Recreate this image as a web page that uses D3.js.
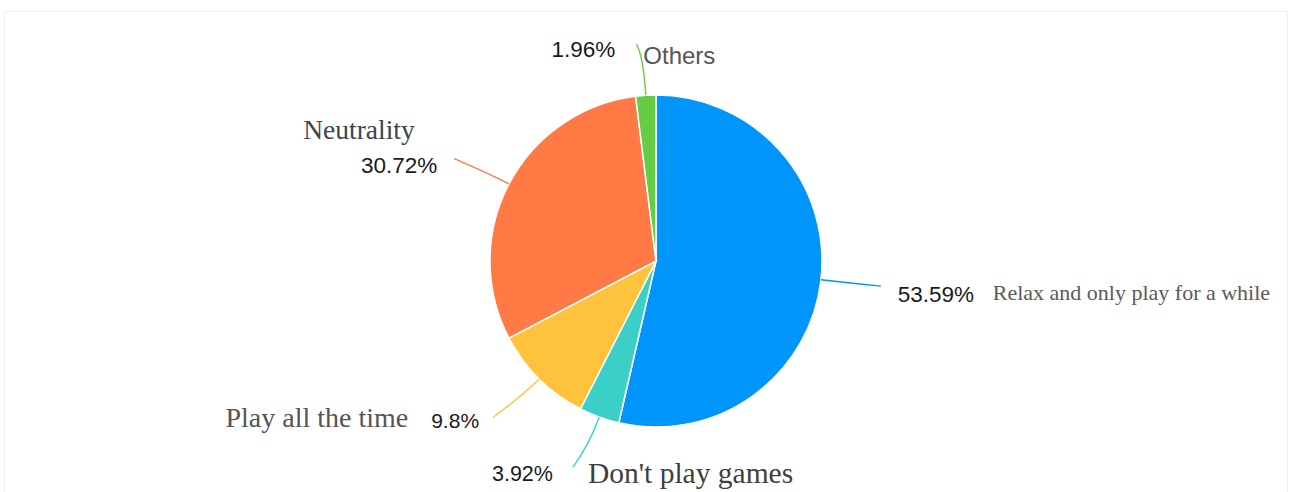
<!DOCTYPE html>
<html>
<head>
<meta charset="utf-8">
<script src="https://cdn.jsdelivr.net/npm/d3@7"></script>
<style>
  html, body { margin: 0; padding: 0; background: #fff; }
  .pct { font-family: "Liberation Sans", Arial, sans-serif; fill: #1a1a1a; }
  .name { font-family: "Liberation Serif", "Times New Roman", serif; fill: #555; }
</style>
</head>
<body>
<svg id="chart" width="1290" height="492"></svg>
<script>
// slices, clockwise from 12 o'clock
var categories = ['Relax and only play for a while', "Don't play games", 'Play all the time', 'Neutrality', 'Others'];
var values = [53.59, 3.92, 9.8, 30.72, 1.96];
var pctLabels = ['53.59%', '3.92%', '9.8%', '30.72%', '1.96%'];
var colors = ['#0095fb', '#3ccfc8', '#ffc23d', '#ff7a45', '#66cc44'];

// leader line: bend radius, then offset of line end from the bend
var leaders = [
    { len: 196, dx: 30, dy: 3 },
    { len: 196, dx: -16, dy: 22 },
    { len: 186, dx: -32, dy: 24 },
    { len: 186, dx: -37, dy: -16 },
    { len: 206, dx: -7, dy: -11 }
];

// label placement relative to line end
var labelPos = [
    { px: 17, py: 8, pa: 'start', ps: 22.5, nx: 112, ny: 14, na: 'start', ns: 22, nc: '#5a5a5a', sans: false },
    { px: -81, py: 6, pa: 'start', ps: 21.5, nx: 15, ny: 16, na: 'start', ns: 29.5, nc: '#3f3f3f', sans: false },
    { px: -62, py: 3, pa: 'start', ps: 21, nx: -85, ny: 10, na: 'end', ns: 28, nc: '#555', sans: false },
    { px: -17, py: 6, pa: 'end', ps: 22.5, nx: -151, ny: -20, na: 'start', ns: 27.5, nc: '#3e4450', sans: false },
    { px: -21, py: 5, pa: 'end', ps: 22.5, nx: 7, ny: 11, na: 'start', ns: 24, nc: '#555', sans: true }
];

var cx = 656, cy = 261, radius = 166;

var svg = d3.select('#chart');

// faint frame seen round the original
svg.append('rect')
    .attr('x', 4.5).attr('y', 11.5)
    .attr('width', 1283).attr('height', 500)
    .attr('fill', 'none')
    .attr('stroke', '#f0f0f0');

var g = svg.append('g')
    .attr('transform', 'translate(' + cx + ',' + cy + ')');

var pie = d3.pie()
    .sort(null)
    .value(function(d) { return d; });

var arcs = pie(values);

var arc = d3.arc()
    .innerRadius(0)
    .outerRadius(radius);

g.selectAll('.slice')
    .data(arcs)
  .enter().append('path')
    .attr('class', 'slice')
    .attr('d', arc)
    .attr('fill', function(d, i) { return colors[i]; })
    .attr('stroke', '#fff')
    .attr('stroke-width', 1.5);

function polar(a, r) {
    return [r * Math.sin(a), -r * Math.cos(a)];
}

arcs.forEach(function(d, i) {
    var mid = (d.startAngle + d.endAngle) / 2;
    var lead = leaders[i];
    var p0 = polar(mid, radius);
    var p1 = polar(mid, lead.len);
    var p2 = [p1[0] + lead.dx, p1[1] + lead.dy];

    var path = d3.path();
    path.moveTo(p0[0], p0[1]);
    path.quadraticCurveTo(p1[0], p1[1], p2[0], p2[1]);

    g.append('path')
        .attr('d', path.toString())
        .attr('fill', 'none')
        .attr('stroke', colors[i])
        .attr('stroke-width', 1.4);

    var lp = labelPos[i];

    g.append('text')
        .attr('class', 'pct')
        .attr('x', p2[0] + lp.px)
        .attr('y', p2[1] + lp.py)
        .attr('dy', '0.35em')
        .attr('text-anchor', lp.pa)
        .style('font-size', lp.ps + 'px')
        .text(pctLabels[i]);

    var name = g.append('text')
        .attr('class', 'name')
        .attr('x', p2[0] + lp.nx)
        .attr('y', p2[1] + lp.ny)
        .attr('text-anchor', lp.na)
        .style('font-size', lp.ns + 'px')
        .style('fill', lp.nc)
        .text(categories[i]);

    if (lp.sans) {
        name.style('font-family', '"Liberation Sans", Arial, sans-serif')
            .attr('dy', '0.35em')
            .attr('y', p2[1] + lp.ny);
    }
});
</script>
</body>
</html>
